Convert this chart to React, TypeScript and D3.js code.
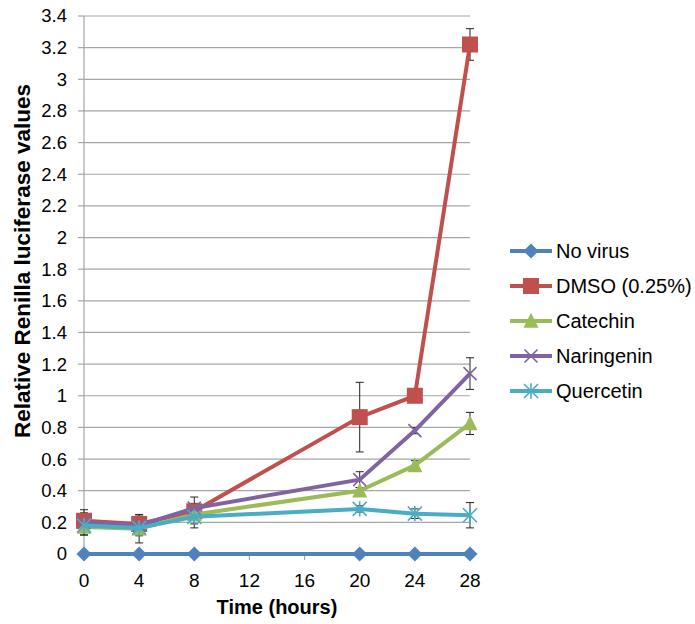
import React from 'react';
import * as d3 from 'd3';

const hours = [0, 4, 8, 20, 24, 28];
const xTicks = [0, 4, 8, 12, 16, 20, 24, 28];
const yTicks = d3.range(0, 3.41, 0.2).map(v => +v.toFixed(1));

const seriesNames = ['No virus', 'DMSO (0.25%)', 'Catechin', 'Naringenin', 'Quercetin'];
const seriesColors = ['#4F81BD', '#C0504D', '#9BBB59', '#8064A2', '#4BACC6'];
const seriesMarkers = ['diamond', 'square', 'triangle', 'cross', 'star'];

const noVirus = [0, 0, 0, 0, 0, 0];
const dmso = [0.21, 0.19, 0.27, 0.865, 1.0, 3.22];
const catechin = [0.17, 0.16, 0.25, 0.40, 0.56, 0.825];
const naringenin = [0.2, 0.18, 0.29, 0.47, 0.78, 1.14];
const quercetin = [0.18, 0.165, 0.235, 0.285, 0.255, 0.245];

const noVirusErr = [0, 0, 0, 0, 0, 0];
const dmsoErr = [0.07, 0.05, 0.05, 0.22, 0.04, 0.1];
const catechinErr = [0.05, 0.09, 0.06, 0.02, 0.03, 0.07];
const naringeninErr = [0.06, 0.04, 0.07, 0.05, 0.02, 0.1];
const quercetinErr = [0.06, 0.05, 0.07, 0.02, 0.03, 0.08];

const allValues = [noVirus, dmso, catechin, naringenin, quercetin];
const allErrors = [noVirusErr, dmsoErr, catechinErr, naringeninErr, quercetinErr];

const W = 695;
const H = 624;
const left = 84, right = 470, top = 16, bottom = 554;

const Marker = ({ type, x, y, color }: { type: string; x: number; y: number; color: string }) => {
  if (type === 'diamond') {
    const r = 7.5;
    return <path d={`M${x},${y - r}L${x + r},${y}L${x},${y + r}L${x - r},${y}Z`} fill={color} />;
  }
  if (type === 'square') {
    const r = 8;
    return <rect x={x - r} y={y - r} width={2 * r} height={2 * r} fill={color} />;
  }
  if (type === 'triangle') {
    const r = 7.5;
    return <path d={`M${x},${y - r * 1.1}L${x + r},${y + r * 0.9}L${x - r},${y + r * 0.9}Z`} fill={color} />;
  }
  if (type === 'cross') {
    const r = 6.5;
    return <path d={`M${x - r},${y - r}L${x + r},${y + r}M${x - r},${y + r}L${x + r},${y - r}`} stroke={color} strokeWidth={1.6} fill="none" />;
  }
  const r = 7;
  return (
    <path
      d={`M${x - r},${y - r}L${x + r},${y + r}M${x - r},${y + r}L${x + r},${y - r}M${x},${y - r * 1.1}L${x},${y + r * 1.1}`}
      stroke={color}
      strokeWidth={1.6}
      fill="none"
    />
  );
};

export default function App() {
  const x = d3.scaleLinear().domain([0, 28]).range([left, right]);
  const y = d3.scaleLinear().domain([0, 3.4]).range([bottom, top]);
  const line = d3.line<number>().x((_, i) => x(hours[i])).y(d => y(d));
  const font = 'Arial, "Liberation Sans", sans-serif';

  return (
    <svg width={W} height={H} style={{ position: 'absolute', left: 0, top: 0 }} fontFamily={font}>
      <rect width={W} height={H} fill="#fff" />
      {/* gridlines */}
      {yTicks.filter(t => t > 0).map(t => (
        <line key={t} x1={left} x2={right} y1={y(t)} y2={y(t)} stroke="#A6A6A6" strokeWidth={1.2} />
      ))}
      {/* y axis */}
      <line x1={left} x2={left} y1={top} y2={bottom} stroke="#A6A6A6" strokeWidth={1.2} />
      {yTicks.map(t => (
        <g key={t}>
          <line x1={left - 6} x2={left} y1={y(t)} y2={y(t)} stroke="#A6A6A6" strokeWidth={1.2} />
          <text x={left - 17} y={y(t)} dy="0.35em" textAnchor="end" fontSize={18.5} fill="#000">
            {t}
          </text>
        </g>
      ))}
      {/* x axis */}
      <line x1={left} x2={right} y1={bottom} y2={bottom} stroke="#A6A6A6" strokeWidth={1.2} />
      {xTicks.map(t => (
        <g key={t}>
          <line x1={x(t)} x2={x(t)} y1={bottom} y2={bottom + 6} stroke="#A6A6A6" strokeWidth={1.2} />
          <text x={x(t)} y={580} dy="0.35em" textAnchor="middle" fontSize={19} fill="#000">
            {t}
          </text>
        </g>
      ))}
      {/* error bars */}
      {allValues.map((vals, si) =>
        vals.map((v, i) => {
          const e = allErrors[si][i];
          if (!e) return null;
          const cx = x(hours[i]);
          return (
            <g key={`${si}-${i}`} stroke="#222" strokeWidth={1}>
              <line x1={cx} x2={cx} y1={y(v - e)} y2={y(v + e)} />
              <line x1={cx - 4} x2={cx + 4} y1={y(v - e)} y2={y(v - e)} />
              <line x1={cx - 4} x2={cx + 4} y1={y(v + e)} y2={y(v + e)} />
            </g>
          );
        })
      )}
      {/* series */}
      {allValues.map((vals, si) => (
        <g key={si}>
          <path d={line(vals) || ''} fill="none" stroke={seriesColors[si]} strokeWidth={4} strokeLinejoin="round" />
          {vals.map((v, i) => (
            <Marker key={i} type={seriesMarkers[si]} x={x(hours[i])} y={y(v)} color={seriesColors[si]} />
          ))}
        </g>
      ))}
      {/* axis titles */}
      <text x={277} y={607} dy="0.35em" textAnchor="middle" fontSize={20} fontWeight="bold">
        Time (hours)
      </text>
      <text
        transform="translate(22,261) rotate(-90)"
        dy="0.35em"
        textAnchor="middle"
        fontSize={22.5}
        fontWeight="bold"
      >
        Relative Renilla luciferase values
      </text>
      {/* legend */}
      {seriesNames.map((name, i) => {
        const ly = 251 + i * 35;
        return (
          <g key={name}>
            <line x1={510} x2={552} y1={ly} y2={ly} stroke={seriesColors[i]} strokeWidth={4} />
            <Marker type={seriesMarkers[i]} x={531} y={ly} color={seriesColors[i]} />
            <text x={556} y={ly} dy="0.35em" fontSize={20} fill="#000">
              {name}
            </text>
          </g>
        );
      })}
    </svg>
  );
}
